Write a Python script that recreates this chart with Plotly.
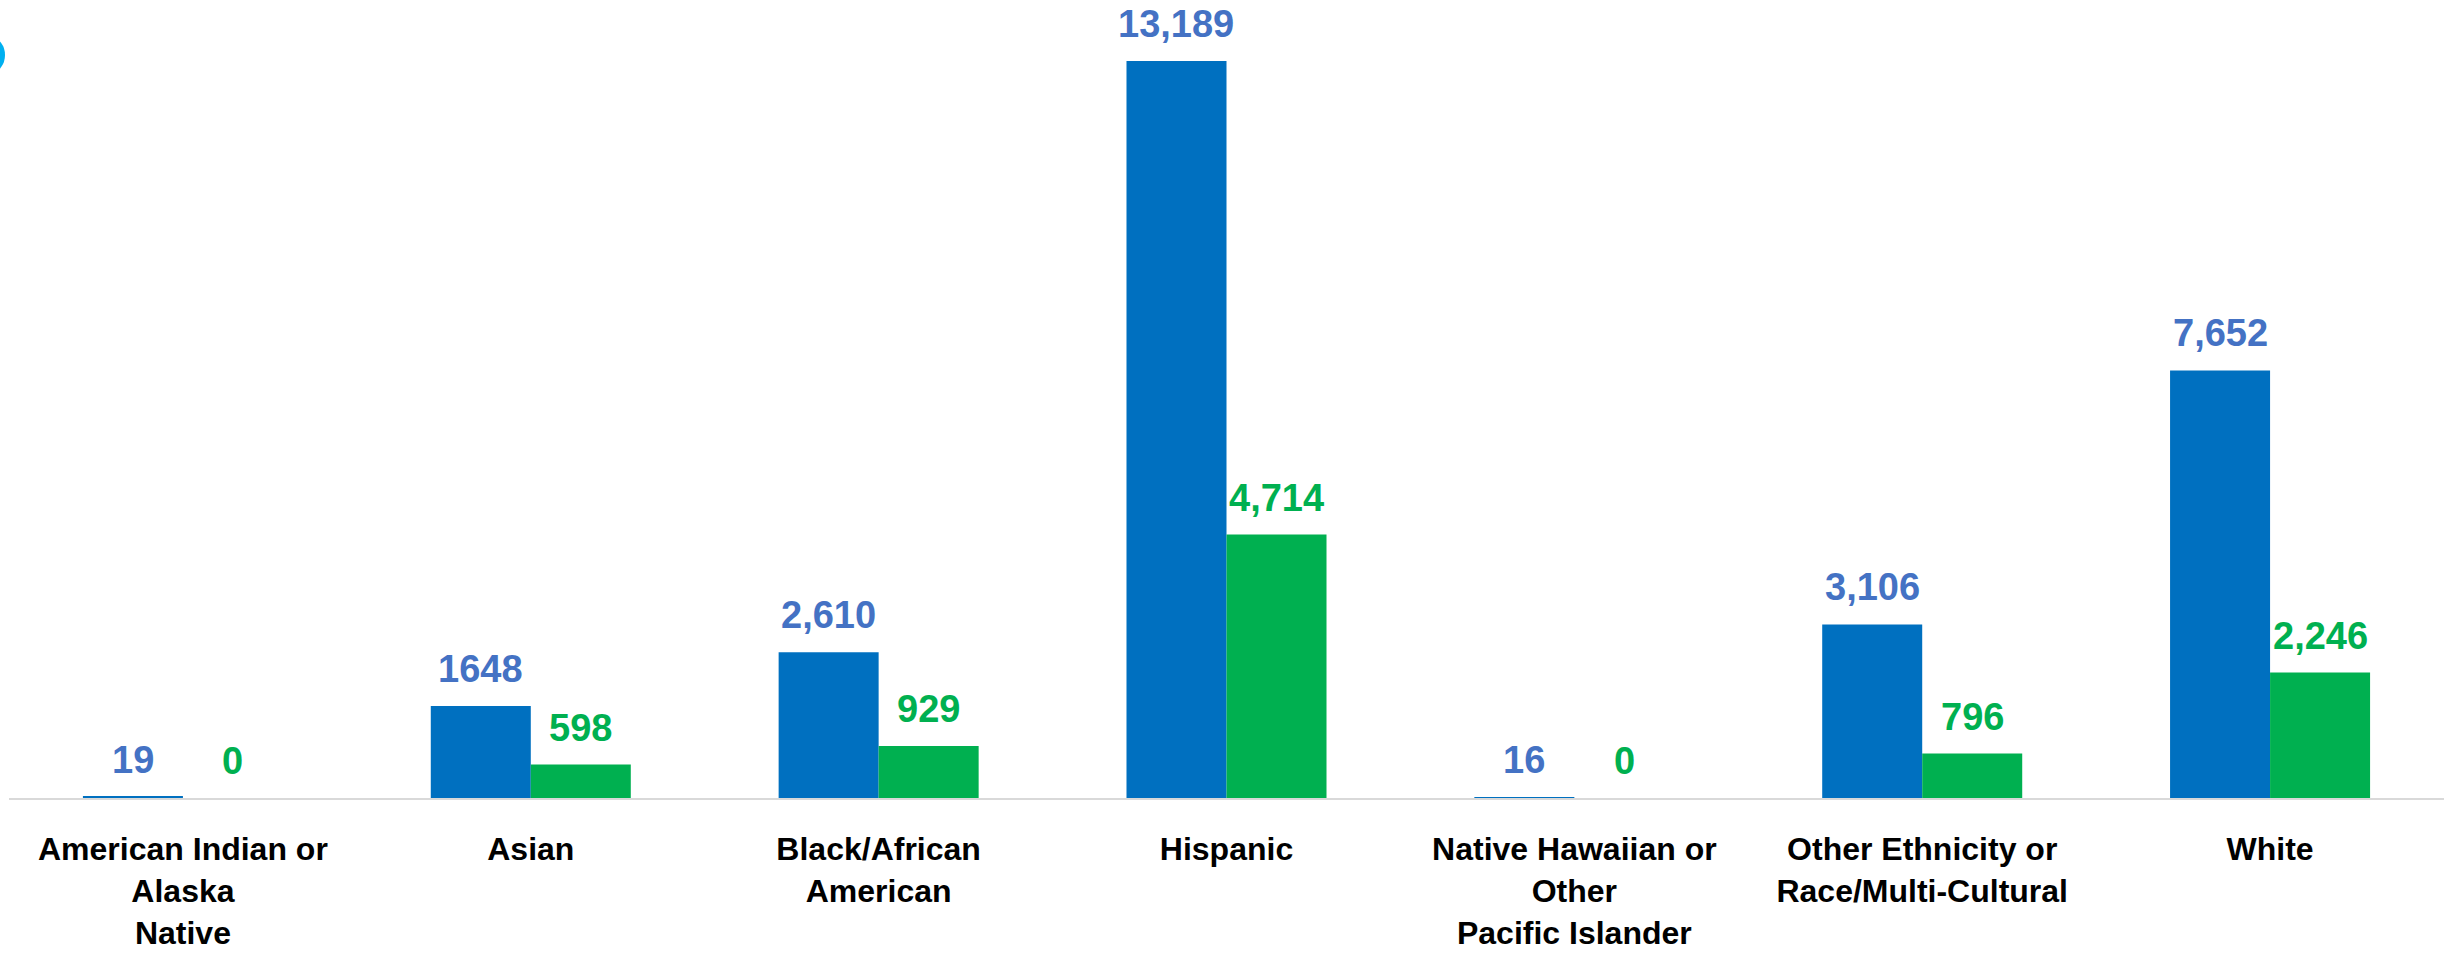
import plotly.graph_objects as go

categories = [
    "American Indian or<br>Alaska<br>Native",
    "Asian",
    "Black/African<br>American",
    "Hispanic",
    "Native Hawaiian or<br>Other<br>Pacific Islander",
    "Other Ethnicity or<br>Race/Multi-Cultural",
    "White",
]
series_a = [19, 1648, 2610, 13189, 16, 3106, 7652]
series_b = [0, 598, 929, 4714, 0, 796, 2246]
labels_a = ["19", "1648", "2,610", "13,189", "16", "3,106", "7,652"]
labels_b = ["0", "598", "929", "4,714", "0", "796", "2,246"]

FONT = "Liberation Sans, Arial, sans-serif"
W, H = 2450, 956
ML, MR, MT, MB = 9, 6, 0, 158
BARGAP = 0.425

fig = go.Figure()
fig.add_trace(go.Bar(
    x=categories, y=series_a,
    marker=dict(color="#0070C0", line=dict(width=0)),
    showlegend=False, hoverinfo="skip",
))
fig.add_trace(go.Bar(
    x=categories, y=series_b,
    marker=dict(color="#00B050", line=dict(width=0)),
    showlegend=False, hoverinfo="skip",
))

# value labels placed above each bar (offset = half bar width in pixels)
cat_w = (W - ML - MR) / len(categories)
half_bar = cat_w * (1 - BARGAP) / 4
for vals, labs, col, sgn in ((series_a, labels_a, "#4472C4", -1),
                             (series_b, labels_b, "#00B050", 1)):
    for c, v, t in zip(categories, vals, labs):
        fig.add_annotation(
            x=c, y=v, text=t, showarrow=False,
            xshift=sgn * half_bar, yshift=14, yanchor="bottom",
            font=dict(family=FONT, size=38, color=col, weight="bold"),
        )

fig.update_layout(
    width=W, height=H,
    margin=dict(l=ML, r=MR, t=MT, b=MB),
    barmode="group", bargap=BARGAP, bargroupgap=0,
    plot_bgcolor="white", paper_bgcolor="white",
    font=dict(family=FONT, color="black"),
)
fig.update_xaxes(
    showline=True, linecolor="#D9D9D9", linewidth=2,
    showgrid=False, ticks="", ticklabelstandoff=22, automargin=False,
    tickfont=dict(family=FONT, size=32, color="black", weight="bold"),
)
fig.update_yaxes(
    range=[0, 14281], visible=False, showgrid=False, zeroline=False,
    automargin=False,
)
fig.add_shape(
    type="circle", xref="paper", yref="paper",
    xsizemode="pixel", ysizemode="pixel",
    xanchor=0, yanchor=1,
    x0=-30, x1=-4, y0=-38, y1=-72,
    fillcolor="#00B0F0", line=dict(width=0),
)

fig.write_html("out.html")
